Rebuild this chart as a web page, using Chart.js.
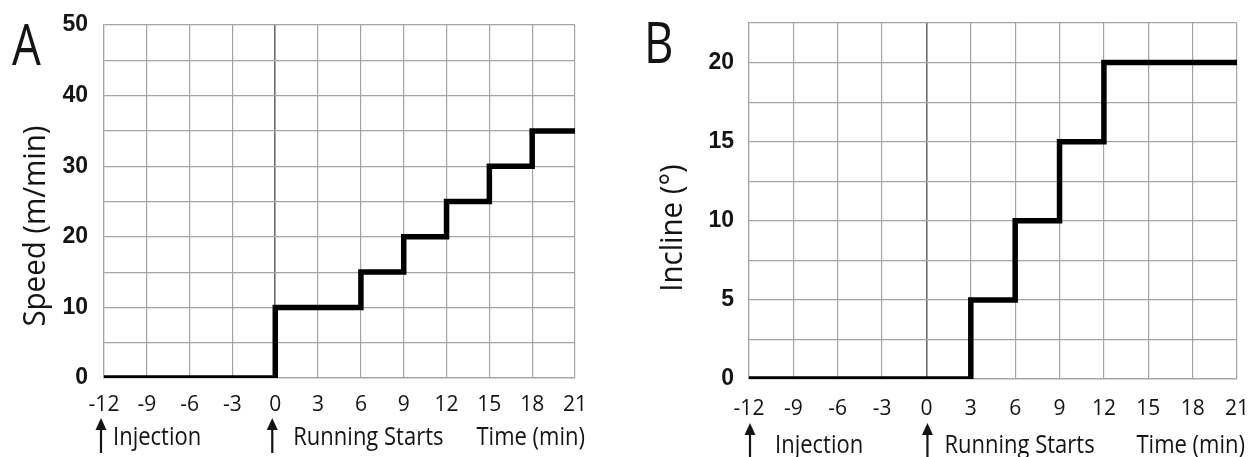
<!DOCTYPE html>
<html>
<head>
<meta charset="utf-8">
<script src="https://cdn.jsdelivr.net/npm/chart.js@4.4.0/dist/chart.umd.min.js"></script>
<style>
body{margin:0;background:#fff;width:1251px;height:457px;overflow:hidden;position:relative}
.panel{position:absolute;top:0;height:457px}
</style>
</head>
<body>
<div class="panel" style="left:0;width:600px"><canvas id="chartA"></canvas></div>
<div class="panel" style="left:640px;width:611px"><canvas id="chartB"></canvas></div>
<script>
// time axis (min), shared by both panels
var xTicks = [-12, -9, -6, -3, 0, 3, 6, 9, 12, 15, 18, 21];

// panel A: treadmill speed protocol
var timeA = [-12, 0, 6, 9, 12, 15, 18, 21];
var speed = [0, 10, 15, 20, 25, 30, 35, 35];
var speedLabels = [0, 10, 20, 30, 40, 50];

// panel B: incline protocol
var timeB = [-12, 3, 6, 9, 12, 21];
var incline = [0, 5, 10, 15, 20, 20];
var inclineLabels = [0, 5, 10, 15, 20];

// event markers under the time axis
var events = [-12, 0];
var eventNames = ['Injection', 'Running Starts'];

var TEXT = '#141414';
var GRID = '#a4a4a4';
var ZERO = '#6c6c6c';

function squeezedText(ctx, txt, x, y, font, align, sx){
    ctx.save();
    ctx.font = font;
    ctx.textAlign = align;
    ctx.textBaseline = 'alphabetic';
    ctx.translate(x, y);
    ctx.scale(sx, 1);
    ctx.fillText(txt, 0, 0);
    ctx.restore();
}

// chart.js adds tick padding to the outer layout padding; drop it so the plot area sits where we want
function noPad(s){
    s.paddingTop = 0; s.paddingBottom = 0;
    s.paddingLeft = 0; s.paddingRight = 0;
}

var extras = {
    id: 'extras',
    afterDraw: function(chart, args, o){
        var ctx = chart.ctx;
        var xs = chart.scales.x;
        ctx.save();
        ctx.fillStyle = TEXT;
        ctx.strokeStyle = TEXT;

        // panel letter
        squeezedText(ctx, o.letter, o.letterX, o.letterY, '57px "Open Sans"', 'left', 0.8);

        // y axis title, rotated
        ctx.save();
        ctx.translate(o.titleX, o.titleY);
        ctx.rotate(-Math.PI / 2);
        ctx.scale(0.95, 1);
        ctx.font = '31px "Open Sans"';
        ctx.textAlign = 'center';
        ctx.textBaseline = 'middle';
        ctx.fillText(o.title, 0, 0);
        ctx.restore();

        // arrows + event names
        for (var i = 0; i < events.length; i++){
            var px = xs.getPixelForValue(events[i]);
            var ax = px + o.arrowDx;
            ctx.lineWidth = 2.2;
            ctx.beginPath();
            ctx.moveTo(ax, o.arrowBottom);
            ctx.lineTo(ax, o.arrowTop + 6);
            ctx.stroke();
            ctx.beginPath();
            ctx.moveTo(ax, o.arrowTop);
            ctx.lineTo(ax - 5.5, o.arrowTop + 12);
            ctx.lineTo(ax + 5.5, o.arrowTop + 12);
            ctx.closePath();
            ctx.fill();
            squeezedText(ctx, eventNames[i], px + o.textDx[i], o.baseline, '25px "Open Sans"', 'left', 0.88);
        }
        squeezedText(ctx, 'Time (min)', o.timeRight, o.baseline, '25px "Open Sans"', 'right', 0.88);
        ctx.restore();
    }
};

function makeChart(id, times, values, yMax, yLabels, pad, yW, xH, tickPadX, tickPadY, ex){
    var pts = times.map(function(t, i){ return {x: t, y: values[i]}; });
    return new Chart(document.getElementById(id), {
        type: 'line',
        data: {
            datasets: [{
                data: pts,
                stepped: true,
                borderColor: '#000',
                borderWidth: 5.5,
                borderJoinStyle: 'miter',
                borderCapStyle: 'butt',
                pointRadius: 0,
                fill: false
            }]
        },
        options: {
            responsive: true,
            maintainAspectRatio: false,
            animation: false,
            layout: { padding: pad },
            plugins: {
                legend: { display: false },
                tooltip: { enabled: false },
                extras: ex
            },
            scales: {
                x: {
                    type: 'linear',
                    min: -12,
                    max: 21,
                    afterBuildTicks: function(s){ s.ticks = xTicks.map(function(v){ return {value: v}; }); },
                    afterFit: function(s){ s.height = xH; noPad(s); },
                    grid: {
                        drawTicks: false,
                        color: function(c){ return c.tick && c.tick.value === 0 ? ZERO : GRID; },
                        lineWidth: function(c){ return c.tick && c.tick.value === 0 ? 1.6 : 1.2; }
                    },
                    border: { color: GRID, width: 1.2 },
                    ticks: {
                        autoSkip: false,
                        maxRotation: 0,
                        padding: tickPadX,
                        color: TEXT,
                        font: { family: '"Open Sans"', size: 21 }
                    }
                },
                y: {
                    min: 0,
                    max: yMax,
                    afterFit: function(s){ s.width = yW; noPad(s); },
                    grid: { drawTicks: false, color: GRID, lineWidth: 1.2 },
                    border: { color: GRID, width: 1.2 },
                    ticks: {
                        stepSize: yMax > 30 ? 5 : 2.5,
                        padding: tickPadY,
                        color: TEXT,
                        font: { family: '"Liberation Sans Narrow", "Arial Narrow", sans-serif', size: 23, weight: 'bold' },
                        callback: function(v){ return yLabels.indexOf(v) >= 0 ? v : ''; }
                    }
                }
            }
        },
        plugins: [extras]
    });
}

makeChart('chartA', timeA, speed, 50, speedLabels,
    {left: 0, top: 25, right: 25, bottom: 0}, 104, 79, 14, 16, {
        letter: 'A', letterX: 12, letterY: 65,
        title: 'Speed (m/min)', titleX: 36, titleY: 226,
        arrowDx: -3, arrowTop: 418, arrowBottom: 453,
        textDx: [9, 18], baseline: 445, timeRight: 585
    });

makeChart('chartB', timeB, incline, 22.5, inclineLabels,
    {left: 0, top: 23, right: 14, bottom: 0}, 109, 78, 17, 15, {
        letter: 'B', letterX: 4, letterY: 63,
        title: 'Incline (°)', titleX: 33, titleY: 228,
        arrowDx: 1, arrowTop: 423, arrowBottom: 457,
        textDx: [26, 18], baseline: 453, timeRight: 605
    });
</script>
</body>
</html>
